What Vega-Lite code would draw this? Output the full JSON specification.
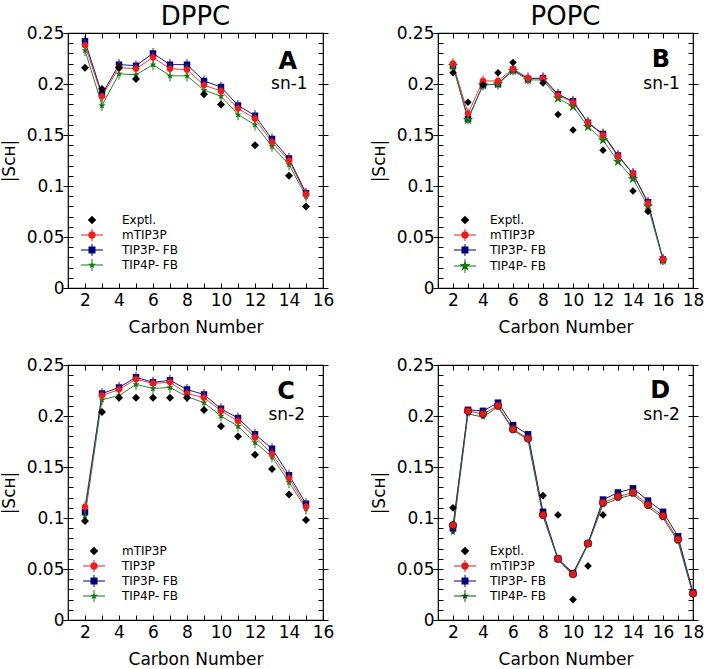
{
  "$schema": "https://vega.github.io/schema/vega-lite/v6.json",
  "padding": {"left": -1, "top": 3, "right": 0, "bottom": 0},
  "background": "white",
  "config": {
    "view": {"stroke": "black", "strokeWidth": 1.2},
    "font": "DejaVu Sans",
    "axis": {"domain": false, "grid": false, "tickColor": "black", "tickWidth": 1, "labelColor": "black", "labelFontSize": 17, "labelFont": "DejaVu Sans", "titleFontSize": 17, "titleFont": "DejaVu Sans", "titleFontWeight": "normal", "titleColor": "black"},
    "title": {"fontSize": 26, "fontWeight": "normal", "font": "DejaVu Sans", "color": "black", "offset": -6}
  },
  "datasets": {
    "A": [
      {"series": "Exptl.", "carbon": 2, "S": 0.216}, {"series": "Exptl.", "carbon": 3, "S": 0.195}, {"series": "Exptl.", "carbon": 4, "S": 0.216}, {"series": "Exptl.", "carbon": 5, "S": 0.205}, {"series": "Exptl.", "carbon": 9, "S": 0.19}, {"series": "Exptl.", "carbon": 10, "S": 0.18}, {"series": "Exptl.", "carbon": 12, "S": 0.14}, {"series": "Exptl.", "carbon": 14, "S": 0.11}, {"series": "Exptl.", "carbon": 15, "S": 0.08},
      {"series": "mTIP3P", "carbon": 2, "S": 0.238}, {"series": "mTIP3P", "carbon": 3, "S": 0.188}, {"series": "mTIP3P", "carbon": 4, "S": 0.216}, {"series": "mTIP3P", "carbon": 5, "S": 0.215}, {"series": "mTIP3P", "carbon": 6, "S": 0.226}, {"series": "mTIP3P", "carbon": 7, "S": 0.215}, {"series": "mTIP3P", "carbon": 8, "S": 0.214}, {"series": "mTIP3P", "carbon": 9, "S": 0.199}, {"series": "mTIP3P", "carbon": 10, "S": 0.193}, {"series": "mTIP3P", "carbon": 11, "S": 0.176}, {"series": "mTIP3P", "carbon": 12, "S": 0.166}, {"series": "mTIP3P", "carbon": 13, "S": 0.143}, {"series": "mTIP3P", "carbon": 14, "S": 0.125}, {"series": "mTIP3P", "carbon": 15, "S": 0.092},
      {"series": "TIP3P- FB", "carbon": 2, "S": 0.242}, {"series": "TIP3P- FB", "carbon": 3, "S": 0.19}, {"series": "TIP3P- FB", "carbon": 4, "S": 0.219}, {"series": "TIP3P- FB", "carbon": 5, "S": 0.218}, {"series": "TIP3P- FB", "carbon": 6, "S": 0.23}, {"series": "TIP3P- FB", "carbon": 7, "S": 0.219}, {"series": "TIP3P- FB", "carbon": 8, "S": 0.219}, {"series": "TIP3P- FB", "carbon": 9, "S": 0.203}, {"series": "TIP3P- FB", "carbon": 10, "S": 0.197}, {"series": "TIP3P- FB", "carbon": 11, "S": 0.179}, {"series": "TIP3P- FB", "carbon": 12, "S": 0.169}, {"series": "TIP3P- FB", "carbon": 13, "S": 0.146}, {"series": "TIP3P- FB", "carbon": 14, "S": 0.127}, {"series": "TIP3P- FB", "carbon": 15, "S": 0.093},
      {"series": "TIP4P- FB", "carbon": 2, "S": 0.233}, {"series": "TIP4P- FB", "carbon": 3, "S": 0.179}, {"series": "TIP4P- FB", "carbon": 4, "S": 0.21}, {"series": "TIP4P- FB", "carbon": 5, "S": 0.209}, {"series": "TIP4P- FB", "carbon": 6, "S": 0.219}, {"series": "TIP4P- FB", "carbon": 7, "S": 0.208}, {"series": "TIP4P- FB", "carbon": 8, "S": 0.208}, {"series": "TIP4P- FB", "carbon": 9, "S": 0.194}, {"series": "TIP4P- FB", "carbon": 10, "S": 0.188}, {"series": "TIP4P- FB", "carbon": 11, "S": 0.17}, {"series": "TIP4P- FB", "carbon": 12, "S": 0.16}, {"series": "TIP4P- FB", "carbon": 13, "S": 0.139}, {"series": "TIP4P- FB", "carbon": 14, "S": 0.121}, {"series": "TIP4P- FB", "carbon": 15, "S": 0.09}
    ],
    "B": [
      {"series": "Exptl.", "carbon": 2, "S": 0.211}, {"series": "Exptl.", "carbon": 3, "S": 0.182}, {"series": "Exptl.", "carbon": 4, "S": 0.199}, {"series": "Exptl.", "carbon": 5, "S": 0.211}, {"series": "Exptl.", "carbon": 6, "S": 0.221}, {"series": "Exptl.", "carbon": 8, "S": 0.201}, {"series": "Exptl.", "carbon": 9, "S": 0.17}, {"series": "Exptl.", "carbon": 10, "S": 0.155}, {"series": "Exptl.", "carbon": 12, "S": 0.135}, {"series": "Exptl.", "carbon": 14, "S": 0.095}, {"series": "Exptl.", "carbon": 15, "S": 0.075},
      {"series": "mTIP3P", "carbon": 2, "S": 0.22}, {"series": "mTIP3P", "carbon": 3, "S": 0.171}, {"series": "mTIP3P", "carbon": 4, "S": 0.203}, {"series": "mTIP3P", "carbon": 5, "S": 0.203}, {"series": "mTIP3P", "carbon": 6, "S": 0.215}, {"series": "mTIP3P", "carbon": 7, "S": 0.206}, {"series": "mTIP3P", "carbon": 8, "S": 0.205}, {"series": "mTIP3P", "carbon": 9, "S": 0.189}, {"series": "mTIP3P", "carbon": 10, "S": 0.182}, {"series": "mTIP3P", "carbon": 11, "S": 0.162}, {"series": "mTIP3P", "carbon": 12, "S": 0.15}, {"series": "mTIP3P", "carbon": 13, "S": 0.129}, {"series": "mTIP3P", "carbon": 14, "S": 0.112}, {"series": "mTIP3P", "carbon": 15, "S": 0.083}, {"series": "mTIP3P", "carbon": 16, "S": 0.028},
      {"series": "TIP3P- FB", "carbon": 2, "S": 0.218}, {"series": "TIP3P- FB", "carbon": 3, "S": 0.166}, {"series": "TIP3P- FB", "carbon": 4, "S": 0.199}, {"series": "TIP3P- FB", "carbon": 5, "S": 0.2}, {"series": "TIP3P- FB", "carbon": 6, "S": 0.214}, {"series": "TIP3P- FB", "carbon": 7, "S": 0.205}, {"series": "TIP3P- FB", "carbon": 8, "S": 0.206}, {"series": "TIP3P- FB", "carbon": 9, "S": 0.19}, {"series": "TIP3P- FB", "carbon": 10, "S": 0.183}, {"series": "TIP3P- FB", "carbon": 11, "S": 0.162}, {"series": "TIP3P- FB", "carbon": 12, "S": 0.151}, {"series": "TIP3P- FB", "carbon": 13, "S": 0.13}, {"series": "TIP3P- FB", "carbon": 14, "S": 0.112}, {"series": "TIP3P- FB", "carbon": 15, "S": 0.084}, {"series": "TIP3P- FB", "carbon": 16, "S": 0.028},
      {"series": "TIP4P- FB", "carbon": 2, "S": 0.218}, {"series": "TIP4P- FB", "carbon": 3, "S": 0.165}, {"series": "TIP4P- FB", "carbon": 4, "S": 0.199}, {"series": "TIP4P- FB", "carbon": 5, "S": 0.2}, {"series": "TIP4P- FB", "carbon": 6, "S": 0.213}, {"series": "TIP4P- FB", "carbon": 7, "S": 0.204}, {"series": "TIP4P- FB", "carbon": 8, "S": 0.204}, {"series": "TIP4P- FB", "carbon": 9, "S": 0.186}, {"series": "TIP4P- FB", "carbon": 10, "S": 0.178}, {"series": "TIP4P- FB", "carbon": 11, "S": 0.158}, {"series": "TIP4P- FB", "carbon": 12, "S": 0.145}, {"series": "TIP4P- FB", "carbon": 13, "S": 0.124}, {"series": "TIP4P- FB", "carbon": 14, "S": 0.107}, {"series": "TIP4P- FB", "carbon": 15, "S": 0.08}, {"series": "TIP4P- FB", "carbon": 16, "S": 0.027}
    ],
    "C": [
      {"series": "Exptl.", "carbon": 2, "S": 0.097}, {"series": "Exptl.", "carbon": 3, "S": 0.204}, {"series": "Exptl.", "carbon": 4, "S": 0.218}, {"series": "Exptl.", "carbon": 5, "S": 0.218}, {"series": "Exptl.", "carbon": 6, "S": 0.218}, {"series": "Exptl.", "carbon": 7, "S": 0.218}, {"series": "Exptl.", "carbon": 8, "S": 0.218}, {"series": "Exptl.", "carbon": 9, "S": 0.206}, {"series": "Exptl.", "carbon": 10, "S": 0.19}, {"series": "Exptl.", "carbon": 11, "S": 0.18}, {"series": "Exptl.", "carbon": 12, "S": 0.162}, {"series": "Exptl.", "carbon": 13, "S": 0.148}, {"series": "Exptl.", "carbon": 14, "S": 0.123}, {"series": "Exptl.", "carbon": 15, "S": 0.098},
      {"series": "mTIP3P", "carbon": 2, "S": 0.111}, {"series": "mTIP3P", "carbon": 3, "S": 0.22}, {"series": "mTIP3P", "carbon": 4, "S": 0.226}, {"series": "mTIP3P", "carbon": 5, "S": 0.236}, {"series": "mTIP3P", "carbon": 6, "S": 0.232}, {"series": "mTIP3P", "carbon": 7, "S": 0.233}, {"series": "mTIP3P", "carbon": 8, "S": 0.222}, {"series": "mTIP3P", "carbon": 9, "S": 0.218}, {"series": "mTIP3P", "carbon": 10, "S": 0.205}, {"series": "mTIP3P", "carbon": 11, "S": 0.195}, {"series": "mTIP3P", "carbon": 12, "S": 0.179}, {"series": "mTIP3P", "carbon": 13, "S": 0.163}, {"series": "mTIP3P", "carbon": 14, "S": 0.139}, {"series": "mTIP3P", "carbon": 15, "S": 0.111},
      {"series": "TIP3P- FB", "carbon": 2, "S": 0.106}, {"series": "TIP3P- FB", "carbon": 3, "S": 0.222}, {"series": "TIP3P- FB", "carbon": 4, "S": 0.228}, {"series": "TIP3P- FB", "carbon": 5, "S": 0.238}, {"series": "TIP3P- FB", "carbon": 6, "S": 0.233}, {"series": "TIP3P- FB", "carbon": 7, "S": 0.235}, {"series": "TIP3P- FB", "carbon": 8, "S": 0.226}, {"series": "TIP3P- FB", "carbon": 9, "S": 0.221}, {"series": "TIP3P- FB", "carbon": 10, "S": 0.207}, {"series": "TIP3P- FB", "carbon": 11, "S": 0.198}, {"series": "TIP3P- FB", "carbon": 12, "S": 0.182}, {"series": "TIP3P- FB", "carbon": 13, "S": 0.168}, {"series": "TIP3P- FB", "carbon": 14, "S": 0.142}, {"series": "TIP3P- FB", "carbon": 15, "S": 0.114},
      {"series": "TIP4P- FB", "carbon": 2, "S": 0.102}, {"series": "TIP4P- FB", "carbon": 3, "S": 0.216}, {"series": "TIP4P- FB", "carbon": 4, "S": 0.22}, {"series": "TIP4P- FB", "carbon": 5, "S": 0.231}, {"series": "TIP4P- FB", "carbon": 6, "S": 0.227}, {"series": "TIP4P- FB", "carbon": 7, "S": 0.228}, {"series": "TIP4P- FB", "carbon": 8, "S": 0.219}, {"series": "TIP4P- FB", "carbon": 9, "S": 0.213}, {"series": "TIP4P- FB", "carbon": 10, "S": 0.2}, {"series": "TIP4P- FB", "carbon": 11, "S": 0.19}, {"series": "TIP4P- FB", "carbon": 12, "S": 0.174}, {"series": "TIP4P- FB", "carbon": 13, "S": 0.16}, {"series": "TIP4P- FB", "carbon": 14, "S": 0.135}, {"series": "TIP4P- FB", "carbon": 15, "S": 0.109}
    ],
    "D": [
      {"series": "Exptl.", "carbon": 2, "S": 0.11}, {"series": "Exptl.", "carbon": 8, "S": 0.122}, {"series": "Exptl.", "carbon": 9, "S": 0.103}, {"series": "Exptl.", "carbon": 10, "S": 0.02}, {"series": "Exptl.", "carbon": 11, "S": 0.053}, {"series": "Exptl.", "carbon": 12, "S": 0.103},
      {"series": "mTIP3P", "carbon": 2, "S": 0.093}, {"series": "mTIP3P", "carbon": 3, "S": 0.205}, {"series": "mTIP3P", "carbon": 4, "S": 0.202}, {"series": "mTIP3P", "carbon": 5, "S": 0.21}, {"series": "mTIP3P", "carbon": 6, "S": 0.187}, {"series": "mTIP3P", "carbon": 7, "S": 0.178}, {"series": "mTIP3P", "carbon": 8, "S": 0.103}, {"series": "mTIP3P", "carbon": 9, "S": 0.06}, {"series": "mTIP3P", "carbon": 10, "S": 0.045}, {"series": "mTIP3P", "carbon": 11, "S": 0.075}, {"series": "mTIP3P", "carbon": 12, "S": 0.115}, {"series": "mTIP3P", "carbon": 13, "S": 0.121}, {"series": "mTIP3P", "carbon": 14, "S": 0.125}, {"series": "mTIP3P", "carbon": 15, "S": 0.113}, {"series": "mTIP3P", "carbon": 16, "S": 0.102}, {"series": "mTIP3P", "carbon": 17, "S": 0.079}, {"series": "mTIP3P", "carbon": 18, "S": 0.026},
      {"series": "TIP3P- FB", "carbon": 2, "S": 0.09}, {"series": "TIP3P- FB", "carbon": 3, "S": 0.206}, {"series": "TIP3P- FB", "carbon": 4, "S": 0.205}, {"series": "TIP3P- FB", "carbon": 5, "S": 0.213}, {"series": "TIP3P- FB", "carbon": 6, "S": 0.191}, {"series": "TIP3P- FB", "carbon": 7, "S": 0.182}, {"series": "TIP3P- FB", "carbon": 8, "S": 0.106}, {"series": "TIP3P- FB", "carbon": 9, "S": 0.06}, {"series": "TIP3P- FB", "carbon": 10, "S": 0.046}, {"series": "TIP3P- FB", "carbon": 11, "S": 0.075}, {"series": "TIP3P- FB", "carbon": 12, "S": 0.118}, {"series": "TIP3P- FB", "carbon": 13, "S": 0.125}, {"series": "TIP3P- FB", "carbon": 14, "S": 0.129}, {"series": "TIP3P- FB", "carbon": 15, "S": 0.117}, {"series": "TIP3P- FB", "carbon": 16, "S": 0.106}, {"series": "TIP3P- FB", "carbon": 17, "S": 0.082}, {"series": "TIP3P- FB", "carbon": 18, "S": 0.027},
      {"series": "TIP4P- FB", "carbon": 2, "S": 0.086}, {"series": "TIP4P- FB", "carbon": 3, "S": 0.202}, {"series": "TIP4P- FB", "carbon": 4, "S": 0.199}, {"series": "TIP4P- FB", "carbon": 5, "S": 0.209}, {"series": "TIP4P- FB", "carbon": 6, "S": 0.186}, {"series": "TIP4P- FB", "carbon": 7, "S": 0.177}, {"series": "TIP4P- FB", "carbon": 8, "S": 0.102}, {"series": "TIP4P- FB", "carbon": 9, "S": 0.059}, {"series": "TIP4P- FB", "carbon": 10, "S": 0.044}, {"series": "TIP4P- FB", "carbon": 11, "S": 0.074}, {"series": "TIP4P- FB", "carbon": 12, "S": 0.113}, {"series": "TIP4P- FB", "carbon": 13, "S": 0.119}, {"series": "TIP4P- FB", "carbon": 14, "S": 0.123}, {"series": "TIP4P- FB", "carbon": 15, "S": 0.111}, {"series": "TIP4P- FB", "carbon": 16, "S": 0.1}, {"series": "TIP4P- FB", "carbon": 17, "S": 0.077}, {"series": "TIP4P- FB", "carbon": 18, "S": 0.025}
    ]
  },
  "concat": [
    {
      "width": 255, "height": 255,
      "title": {"text": "DPPC"},
      "data": {"name": "A"},
      "layer": [
        {"transform": [{"filter": "datum.series != 'Exptl.'"}], "mark": {"type": "line", "strokeWidth": 1},
         "encoding": {
           "x": {"field": "carbon", "type": "quantitative", "scale": {"domain": [1, 16], "nice": false, "zero": false}, "axis": {"orient": "bottom", "values": [1,2,3,4,5,6,7,8,9,10,11,12,13,14,15,16], "labelExpr": "datum.value % 2 === 0 ? datum.label : ''", "tickSize": -5, "labelPadding": 9, "labelFlush": false, "labelOverlap": false, "title": "Carbon Number", "titlePadding": 11}},
           "y": {"field": "S", "type": "quantitative", "scale": {"domain": [0, 0.25], "nice": false}, "axis": {"orient": "left", "values": [0,0.05,0.1,0.15,0.2,0.25], "format": "~g", "tickSize": 5, "labelPadding": -1, "labelFlush": false, "labelOverlap": false, "title": "|Sᴄʜ|", "titlePadding": 8}},
           "stroke": {"field": "series", "scale": {"domain": ["mTIP3P", "TIP3P- FB", "TIP4P- FB"], "range": ["#f03a3a", "#1a1a8a", "#2a8a2a"]}, "legend": null}
         }},
        {"mark": {"type": "point", "filled": true, "opacity": 0, "size": 100},
         "encoding": {
           "x": {"field": "carbon", "type": "quantitative", "scale": {"domain": [1, 16], "nice": false, "zero": false}, "axis": {"orient": "top", "values": [1,2,3,4,5,6,7,8,9,10,11,12,13,14,15,16], "tickSize": -5, "labels": false, "title": null}},
           "y": {"field": "S", "type": "quantitative", "scale": {"domain": [0, 0.25], "nice": false}, "axis": {"orient": "right", "values": [0,0.05,0.1,0.15,0.2,0.25], "tickSize": 5, "labels": false, "title": null}},
           "color": {"field": "series", "scale": {"domain": ["Exptl.", "mTIP3P", "TIP3P- FB", "TIP4P- FB"], "range": ["#000000", "#ee1c1c", "#00007a", "#117711"]},
             "legend": {"orient": "none", "legendX": 18, "legendY": 181, "title": null, "labelFontSize": 12, "labelFont": "DejaVu Sans", "labelColor": "black", "symbolSize": 100, "symbolStrokeWidth": 0, "symbolOpacity": 1, "labelOffset": 24, "rowPadding": 3, "padding": 0, "encode": {"symbols": {"update": {"opacity": {"value": 1}, "fillOpacity": {"value": 1}}}}}},
           "shape": {"field": "series", "scale": {"domain": ["Exptl.", "mTIP3P", "TIP3P- FB", "TIP4P- FB"], "range": ["M0,-0.85L0.85,0L0,0.85L-0.85,0Z", "M-2.2,-0.1H2.2V0.1H-2.2Z M-0.1,-1.2H0.1V1.2H-0.1Z M-0.75,0A0.75,0.75 0 1,1 0.75,0A0.75,0.75 0 1,1 -0.75,0Z", "M-2.2,-0.1H2.2V0.1H-2.2Z M-0.1,-1.2H0.1V1.2H-0.1Z M-0.7,-0.7H0.7V0.7H-0.7Z", "M-2.2,-0.1H2.2V0.1H-2.2Z M-0.1,-1.2H0.1V1.2H-0.1Z M0,-0.8L0.188,-0.259L0.761,-0.247L0.304,0.099L0.47,0.647L0,0.32L-0.47,0.647L-0.304,0.099L-0.761,-0.247L-0.188,-0.259Z"]},
             "legend": {"orient": "none", "legendX": 18, "legendY": 181, "title": null, "labelFontSize": 12, "labelFont": "DejaVu Sans", "labelColor": "black", "symbolSize": 100, "symbolStrokeWidth": 0, "symbolOpacity": 1, "labelOffset": 24, "rowPadding": 3, "padding": 0, "encode": {"symbols": {"update": {"opacity": {"value": 1}, "fillOpacity": {"value": 1}}}}}}
         }},
        {"transform": [{"filter": "datum.series == 'TIP3P- FB'"}], "mark": {"type": "point", "filled": true, "opacity": 1, "color": "#00007a", "size": 42, "shape": "M-1,-1H1V1H-1Z M-0.13,-1.7H0.13V1.7H-0.13Z"},
         "encoding": {
           "x": {"field": "carbon", "type": "quantitative", "scale": {"domain": [1, 16], "nice": false, "zero": false}, "axis": null},
           "y": {"field": "S", "type": "quantitative", "scale": {"domain": [0, 0.25], "nice": false}, "axis": {"orient": "left", "values": [0,0.01,0.02,0.03,0.04,0.05,0.06,0.07,0.08,0.09,0.1,0.11,0.12,0.13,0.14,0.15,0.16,0.17,0.18,0.19,0.2,0.21,0.22,0.23,0.24,0.25], "tickSize": -5, "labels": false, "title": null}}
         }},
        {"transform": [{"filter": "datum.series == 'TIP4P- FB'"}], "mark": {"type": "point", "filled": true, "opacity": 1, "color": "#117711", "size": 56, "shape": "M0,-1L0.235,-0.324L0.951,-0.309L0.38,0.124L0.588,0.809L0,0.4L-0.588,0.809L-0.38,0.124L-0.951,-0.309L-0.235,-0.324Z M-0.13,-1.5H0.13V1.5H-0.13Z"},
         "encoding": {
           "x": {"field": "carbon", "type": "quantitative", "scale": {"domain": [1, 16], "nice": false, "zero": false}, "axis": null},
           "y": {"field": "S", "type": "quantitative", "scale": {"domain": [0, 0.25], "nice": false}, "axis": {"orient": "right", "values": [0,0.01,0.02,0.03,0.04,0.05,0.06,0.07,0.08,0.09,0.1,0.11,0.12,0.13,0.14,0.15,0.16,0.17,0.18,0.19,0.2,0.21,0.22,0.23,0.24,0.25], "tickSize": -5, "labels": false, "title": null}}
         }},
        {"transform": [{"filter": "datum.series == 'mTIP3P'"}], "mark": {"type": "point", "filled": true, "opacity": 1, "color": "#ee1c1c", "size": 44, "shape": "M-1,0A1,1 0 1,1 1,0A1,1 0 1,1 -1,0Z M-0.13,-1.7H0.13V1.7H-0.13Z"},
         "encoding": {
           "x": {"field": "carbon", "type": "quantitative", "scale": {"domain": [1, 16], "nice": false, "zero": false}, "axis": null},
           "y": {"field": "S", "type": "quantitative", "scale": {"domain": [0, 0.25], "nice": false}, "axis": null}
         }},
        {"transform": [{"filter": "datum.series == 'Exptl.'"}], "mark": {"type": "point", "filled": true, "opacity": 1, "color": "#000000", "size": 64, "shape": "M0,-1L1,0L0,1L-1,0Z"},
         "encoding": {
           "x": {"field": "carbon", "type": "quantitative", "scale": {"domain": [1, 16], "nice": false, "zero": false}, "axis": null},
           "y": {"field": "S", "type": "quantitative", "scale": {"domain": [0, 0.25], "nice": false}, "axis": null}
         }},
        {"data": {"values": [{"t": "A"}]}, "mark": {"type": "text", "align": "right", "baseline": "middle", "fontSize": 24, "fontWeight": "bold", "color": "black"},
         "encoding": {"x": {"datum": 14.47, "type": "quantitative", "axis": null}, "y": {"datum": 0.222, "type": "quantitative", "axis": null}, "text": {"field": "t"}}},
        {"data": {"values": [{"t": "sn-1"}]}, "mark": {"type": "text", "align": "right", "baseline": "middle", "fontSize": 17, "color": "black"},
         "encoding": {"x": {"datum": 15.1, "type": "quantitative", "axis": null}, "y": {"datum": 0.2, "type": "quantitative", "axis": null}, "text": {"field": "t"}}}
      ],
      "resolve": {"axis": {"x": "independent", "y": "independent"}}
    },
    {
      "width": 255, "height": 255,
      "title": {"text": "POPC"},
      "data": {"name": "B"},
      "layer": [
        {"transform": [{"filter": "datum.series != 'Exptl.'"}], "mark": {"type": "line", "strokeWidth": 1},
         "encoding": {
           "x": {"field": "carbon", "type": "quantitative", "scale": {"domain": [1, 18], "nice": false, "zero": false}, "axis": {"orient": "bottom", "values": [1,2,3,4,5,6,7,8,9,10,11,12,13,14,15,16,17,18], "labelExpr": "datum.value % 2 === 0 ? datum.label : ''", "tickSize": -5, "labelPadding": 9, "labelFlush": false, "labelOverlap": false, "title": "Carbon Number", "titlePadding": 11}},
           "y": {"field": "S", "type": "quantitative", "scale": {"domain": [0, 0.25], "nice": false}, "axis": {"orient": "left", "values": [0,0.05,0.1,0.15,0.2,0.25], "format": "~g", "tickSize": 5, "labelPadding": -1, "labelFlush": false, "labelOverlap": false, "title": "|Sᴄʜ|", "titlePadding": 8}},
           "stroke": {"field": "series", "scale": {"domain": ["mTIP3P", "TIP3P- FB", "TIP4P- FB"], "range": ["#f03a3a", "#1a1a8a", "#2a8a2a"]}, "legend": null}
         }},
        {"mark": {"type": "point", "filled": true, "opacity": 0, "size": 100},
         "encoding": {
           "x": {"field": "carbon", "type": "quantitative", "scale": {"domain": [1, 18], "nice": false, "zero": false}, "axis": {"orient": "top", "values": [1,2,3,4,5,6,7,8,9,10,11,12,13,14,15,16,17,18], "tickSize": -5, "labels": false, "title": null}},
           "y": {"field": "S", "type": "quantitative", "scale": {"domain": [0, 0.25], "nice": false}, "axis": {"orient": "right", "values": [0,0.05,0.1,0.15,0.2,0.25], "tickSize": 5, "labels": false, "title": null}},
           "color": {"field": "series", "scale": {"domain": ["Exptl.", "mTIP3P", "TIP3P- FB", "TIP4P- FB"], "range": ["#000000", "#ee1c1c", "#00007a", "#117711"]},
             "legend": {"orient": "none", "legendX": 21, "legendY": 181, "title": null, "labelFontSize": 12, "labelFont": "DejaVu Sans", "labelColor": "black", "symbolSize": 100, "symbolStrokeWidth": 0, "symbolOpacity": 1, "labelOffset": 19, "rowPadding": 3, "padding": 0, "encode": {"symbols": {"update": {"opacity": {"value": 1}, "fillOpacity": {"value": 1}}}}}},
           "shape": {"field": "series", "scale": {"domain": ["Exptl.", "mTIP3P", "TIP3P- FB", "TIP4P- FB"], "range": ["M0,-0.85L0.85,0L0,0.85L-0.85,0Z", "M-2.2,-0.1H2.2V0.1H-2.2Z M-0.1,-1.2H0.1V1.2H-0.1Z M-0.75,0A0.75,0.75 0 1,1 0.75,0A0.75,0.75 0 1,1 -0.75,0Z", "M-2.2,-0.1H2.2V0.1H-2.2Z M-0.1,-1.2H0.1V1.2H-0.1Z M-0.7,-0.7H0.7V0.7H-0.7Z", "M-2.2,-0.1H2.2V0.1H-2.2Z M-0.1,-1.4H0.1V1.4H-0.1Z M0,-1.2L0.282,-0.389L1.141,-0.371L0.456,0.149L0.706,0.971L0,0.48L-0.706,0.971L-0.456,0.149L-1.141,-0.371L-0.282,-0.389Z"]},
             "legend": {"orient": "none", "legendX": 21, "legendY": 181, "title": null, "labelFontSize": 12, "labelFont": "DejaVu Sans", "labelColor": "black", "symbolSize": 100, "symbolStrokeWidth": 0, "symbolOpacity": 1, "labelOffset": 19, "rowPadding": 3, "padding": 0, "encode": {"symbols": {"update": {"opacity": {"value": 1}, "fillOpacity": {"value": 1}}}}}}
         }},
        {"transform": [{"filter": "datum.series == 'TIP3P- FB'"}], "mark": {"type": "point", "filled": true, "opacity": 1, "color": "#00007a", "size": 42, "shape": "M-1,-1H1V1H-1Z M-0.13,-1.7H0.13V1.7H-0.13Z"},
         "encoding": {
           "x": {"field": "carbon", "type": "quantitative", "scale": {"domain": [1, 18], "nice": false, "zero": false}, "axis": null},
           "y": {"field": "S", "type": "quantitative", "scale": {"domain": [0, 0.25], "nice": false}, "axis": {"orient": "left", "values": [0,0.01,0.02,0.03,0.04,0.05,0.06,0.07,0.08,0.09,0.1,0.11,0.12,0.13,0.14,0.15,0.16,0.17,0.18,0.19,0.2,0.21,0.22,0.23,0.24,0.25], "tickSize": -5, "labels": false, "title": null}}
         }},
        {"transform": [{"filter": "datum.series == 'TIP4P- FB'"}], "mark": {"type": "point", "filled": true, "opacity": 1, "color": "#117711", "size": 121, "shape": "M0,-1L0.235,-0.324L0.951,-0.309L0.38,0.124L0.588,0.809L0,0.4L-0.588,0.809L-0.38,0.124L-0.951,-0.309L-0.235,-0.324Z"},
         "encoding": {
           "x": {"field": "carbon", "type": "quantitative", "scale": {"domain": [1, 18], "nice": false, "zero": false}, "axis": null},
           "y": {"field": "S", "type": "quantitative", "scale": {"domain": [0, 0.25], "nice": false}, "axis": {"orient": "right", "values": [0,0.01,0.02,0.03,0.04,0.05,0.06,0.07,0.08,0.09,0.1,0.11,0.12,0.13,0.14,0.15,0.16,0.17,0.18,0.19,0.2,0.21,0.22,0.23,0.24,0.25], "tickSize": -5, "labels": false, "title": null}}
         }},
        {"transform": [{"filter": "datum.series == 'mTIP3P'"}], "mark": {"type": "point", "filled": true, "opacity": 1, "color": "#ee1c1c", "size": 44, "shape": "M-1,0A1,1 0 1,1 1,0A1,1 0 1,1 -1,0Z M-0.13,-1.7H0.13V1.7H-0.13Z"},
         "encoding": {
           "x": {"field": "carbon", "type": "quantitative", "scale": {"domain": [1, 18], "nice": false, "zero": false}, "axis": null},
           "y": {"field": "S", "type": "quantitative", "scale": {"domain": [0, 0.25], "nice": false}, "axis": null}
         }},
        {"transform": [{"filter": "datum.series == 'Exptl.'"}], "mark": {"type": "point", "filled": true, "opacity": 1, "color": "#000000", "size": 56, "shape": "M0,-1L1,0L0,1L-1,0Z"},
         "encoding": {
           "x": {"field": "carbon", "type": "quantitative", "scale": {"domain": [1, 18], "nice": false, "zero": false}, "axis": null},
           "y": {"field": "S", "type": "quantitative", "scale": {"domain": [0, 0.25], "nice": false}, "axis": null}
         }},
        {"data": {"values": [{"t": "B"}]}, "mark": {"type": "text", "align": "right", "baseline": "middle", "fontSize": 24, "fontWeight": "bold", "color": "black"},
         "encoding": {"x": {"datum": 16.47, "type": "quantitative", "axis": null}, "y": {"datum": 0.224, "type": "quantitative", "axis": null}, "text": {"field": "t"}}},
        {"data": {"values": [{"t": "sn-1"}]}, "mark": {"type": "text", "align": "right", "baseline": "middle", "fontSize": 17, "color": "black"},
         "encoding": {"x": {"datum": 17.13, "type": "quantitative", "axis": null}, "y": {"datum": 0.2, "type": "quantitative", "axis": null}, "text": {"field": "t"}}}
      ],
      "resolve": {"axis": {"x": "independent", "y": "independent"}}
    },
    {
      "width": 255, "height": 255,
      "data": {"name": "C"},
      "layer": [
        {"transform": [{"filter": "datum.series != 'Exptl.'"}], "mark": {"type": "line", "strokeWidth": 1},
         "encoding": {
           "x": {"field": "carbon", "type": "quantitative", "scale": {"domain": [1, 16], "nice": false, "zero": false}, "axis": {"orient": "bottom", "values": [1,2,3,4,5,6,7,8,9,10,11,12,13,14,15,16], "labelExpr": "datum.value % 2 === 0 ? datum.label : ''", "tickSize": -5, "labelPadding": 9, "labelFlush": false, "labelOverlap": false, "title": "Carbon Number", "titlePadding": 11}},
           "y": {"field": "S", "type": "quantitative", "scale": {"domain": [0, 0.25], "nice": false}, "axis": {"orient": "left", "values": [0,0.05,0.1,0.15,0.2,0.25], "format": "~g", "tickSize": 5, "labelPadding": -1, "labelFlush": false, "labelOverlap": false, "title": "|Sᴄʜ|", "titlePadding": 8}},
           "stroke": {"field": "series", "scale": {"domain": ["mTIP3P", "TIP3P- FB", "TIP4P- FB"], "range": ["#f03a3a", "#1a1a8a", "#2a8a2a"]}, "legend": null}
         }},
        {"mark": {"type": "point", "filled": true, "opacity": 0, "size": 100},
         "encoding": {
           "x": {"field": "carbon", "type": "quantitative", "scale": {"domain": [1, 16], "nice": false, "zero": false}, "axis": {"orient": "top", "values": [1,2,3,4,5,6,7,8,9,10,11,12,13,14,15,16], "tickSize": -5, "labels": false, "title": null}},
           "y": {"field": "S", "type": "quantitative", "scale": {"domain": [0, 0.25], "nice": false}, "axis": {"orient": "right", "values": [0,0.05,0.1,0.15,0.2,0.25], "tickSize": 5, "labels": false, "title": null}},
           "color": {"field": "series", "scale": {"domain": ["Exptl.", "mTIP3P", "TIP3P- FB", "TIP4P- FB"], "range": ["#000000", "#ee1c1c", "#00007a", "#117711"]},
             "legend": {"orient": "none", "legendX": 20, "legendY": 180, "title": null, "labelFontSize": 12, "labelFont": "DejaVu Sans", "labelColor": "black", "symbolSize": 100, "symbolStrokeWidth": 0, "symbolOpacity": 1, "labelOffset": 22, "rowPadding": 3, "padding": 0, "labelExpr": "datum.label == 'Exptl.' ? 'mTIP3P' : datum.label == 'mTIP3P' ? 'TIP3P' : datum.label", "encode": {"symbols": {"update": {"opacity": {"value": 1}, "fillOpacity": {"value": 1}}}}}},
           "shape": {"field": "series", "scale": {"domain": ["Exptl.", "mTIP3P", "TIP3P- FB", "TIP4P- FB"], "range": ["M0,-0.85L0.85,0L0,0.85L-0.85,0Z", "M-2.2,-0.1H2.2V0.1H-2.2Z M-0.1,-1.2H0.1V1.2H-0.1Z M-0.75,0A0.75,0.75 0 1,1 0.75,0A0.75,0.75 0 1,1 -0.75,0Z", "M-2.2,-0.1H2.2V0.1H-2.2Z M-0.1,-1.2H0.1V1.2H-0.1Z M-0.7,-0.7H0.7V0.7H-0.7Z", "M-2.2,-0.1H2.2V0.1H-2.2Z M-0.1,-1.2H0.1V1.2H-0.1Z M0,-0.8L0.188,-0.259L0.761,-0.247L0.304,0.099L0.47,0.647L0,0.32L-0.47,0.647L-0.304,0.099L-0.761,-0.247L-0.188,-0.259Z"]},
             "legend": {"orient": "none", "legendX": 20, "legendY": 180, "title": null, "labelFontSize": 12, "labelFont": "DejaVu Sans", "labelColor": "black", "symbolSize": 100, "symbolStrokeWidth": 0, "symbolOpacity": 1, "labelOffset": 22, "rowPadding": 3, "padding": 0, "labelExpr": "datum.label == 'Exptl.' ? 'mTIP3P' : datum.label == 'mTIP3P' ? 'TIP3P' : datum.label", "encode": {"symbols": {"update": {"opacity": {"value": 1}, "fillOpacity": {"value": 1}}}}}}
         }},
        {"transform": [{"filter": "datum.series == 'TIP3P- FB'"}], "mark": {"type": "point", "filled": true, "opacity": 1, "color": "#00007a", "size": 42, "shape": "M-1,-1H1V1H-1Z M-0.13,-1.7H0.13V1.7H-0.13Z"},
         "encoding": {
           "x": {"field": "carbon", "type": "quantitative", "scale": {"domain": [1, 16], "nice": false, "zero": false}, "axis": null},
           "y": {"field": "S", "type": "quantitative", "scale": {"domain": [0, 0.25], "nice": false}, "axis": {"orient": "left", "values": [0,0.01,0.02,0.03,0.04,0.05,0.06,0.07,0.08,0.09,0.1,0.11,0.12,0.13,0.14,0.15,0.16,0.17,0.18,0.19,0.2,0.21,0.22,0.23,0.24,0.25], "tickSize": -5, "labels": false, "title": null}}
         }},
        {"transform": [{"filter": "datum.series == 'TIP4P- FB'"}], "mark": {"type": "point", "filled": true, "opacity": 1, "color": "#117711", "size": 56, "shape": "M0,-1L0.235,-0.324L0.951,-0.309L0.38,0.124L0.588,0.809L0,0.4L-0.588,0.809L-0.38,0.124L-0.951,-0.309L-0.235,-0.324Z M-0.13,-1.5H0.13V1.5H-0.13Z"},
         "encoding": {
           "x": {"field": "carbon", "type": "quantitative", "scale": {"domain": [1, 16], "nice": false, "zero": false}, "axis": null},
           "y": {"field": "S", "type": "quantitative", "scale": {"domain": [0, 0.25], "nice": false}, "axis": {"orient": "right", "values": [0,0.01,0.02,0.03,0.04,0.05,0.06,0.07,0.08,0.09,0.1,0.11,0.12,0.13,0.14,0.15,0.16,0.17,0.18,0.19,0.2,0.21,0.22,0.23,0.24,0.25], "tickSize": -5, "labels": false, "title": null}}
         }},
        {"transform": [{"filter": "datum.series == 'mTIP3P'"}], "mark": {"type": "point", "filled": true, "opacity": 1, "color": "#ee1c1c", "size": 44, "shape": "M-1,0A1,1 0 1,1 1,0A1,1 0 1,1 -1,0Z M-0.13,-1.7H0.13V1.7H-0.13Z"},
         "encoding": {
           "x": {"field": "carbon", "type": "quantitative", "scale": {"domain": [1, 16], "nice": false, "zero": false}, "axis": null},
           "y": {"field": "S", "type": "quantitative", "scale": {"domain": [0, 0.25], "nice": false}, "axis": null}
         }},
        {"transform": [{"filter": "datum.series == 'Exptl.'"}], "mark": {"type": "point", "filled": true, "opacity": 1, "color": "#000000", "size": 64, "shape": "M0,-1L1,0L0,1L-1,0Z"},
         "encoding": {
           "x": {"field": "carbon", "type": "quantitative", "scale": {"domain": [1, 16], "nice": false, "zero": false}, "axis": null},
           "y": {"field": "S", "type": "quantitative", "scale": {"domain": [0, 0.25], "nice": false}, "axis": null}
         }},
        {"data": {"values": [{"t": "C"}]}, "mark": {"type": "text", "align": "right", "baseline": "middle", "fontSize": 24, "fontWeight": "bold", "color": "black"},
         "encoding": {"x": {"datum": 14.35, "type": "quantitative", "axis": null}, "y": {"datum": 0.224, "type": "quantitative", "axis": null}, "text": {"field": "t"}}},
        {"data": {"values": [{"t": "sn-2"}]}, "mark": {"type": "text", "align": "right", "baseline": "middle", "fontSize": 17, "color": "black"},
         "encoding": {"x": {"datum": 14.94, "type": "quantitative", "axis": null}, "y": {"datum": 0.201, "type": "quantitative", "axis": null}, "text": {"field": "t"}}}
      ],
      "resolve": {"axis": {"x": "independent", "y": "independent"}}
    },
    {
      "width": 255, "height": 255,
      "data": {"name": "D"},
      "layer": [
        {"transform": [{"filter": "datum.series != 'Exptl.'"}], "mark": {"type": "line", "strokeWidth": 1},
         "encoding": {
           "x": {"field": "carbon", "type": "quantitative", "scale": {"domain": [1, 18], "nice": false, "zero": false}, "axis": {"orient": "bottom", "values": [1,2,3,4,5,6,7,8,9,10,11,12,13,14,15,16,17,18], "labelExpr": "datum.value % 2 === 0 ? datum.label : ''", "tickSize": -5, "labelPadding": 9, "labelFlush": false, "labelOverlap": false, "title": "Carbon Number", "titlePadding": 11}},
           "y": {"field": "S", "type": "quantitative", "scale": {"domain": [0, 0.25], "nice": false}, "axis": {"orient": "left", "values": [0,0.05,0.1,0.15,0.2,0.25], "format": "~g", "tickSize": 5, "labelPadding": -1, "labelFlush": false, "labelOverlap": false, "title": "|Sᴄʜ|", "titlePadding": 8}},
           "stroke": {"field": "series", "scale": {"domain": ["mTIP3P", "TIP3P- FB", "TIP4P- FB"], "range": ["#e02a2a", "#1a1a8a", "#2a6a2a"]}, "legend": null}
         }},
        {"mark": {"type": "point", "filled": true, "opacity": 0, "size": 100},
         "encoding": {
           "x": {"field": "carbon", "type": "quantitative", "scale": {"domain": [1, 18], "nice": false, "zero": false}, "axis": {"orient": "top", "values": [1,2,3,4,5,6,7,8,9,10,11,12,13,14,15,16,17,18], "tickSize": -5, "labels": false, "title": null}},
           "y": {"field": "S", "type": "quantitative", "scale": {"domain": [0, 0.25], "nice": false}, "axis": {"orient": "right", "values": [0,0.05,0.1,0.15,0.2,0.25], "tickSize": 5, "labels": false, "title": null}},
           "color": {"field": "series", "scale": {"domain": ["Exptl.", "mTIP3P", "TIP3P- FB", "TIP4P- FB"], "range": ["#000000", "#dd1c1c", "#00007a", "#0f4f0f"]},
             "legend": {"orient": "none", "legendX": 21, "legendY": 180, "title": null, "labelFontSize": 12, "labelFont": "DejaVu Sans", "labelColor": "black", "symbolSize": 100, "symbolStrokeWidth": 0, "symbolOpacity": 1, "labelOffset": 19, "rowPadding": 3, "padding": 0, "encode": {"symbols": {"update": {"opacity": {"value": 1}, "fillOpacity": {"value": 1}}}}}},
           "shape": {"field": "series", "scale": {"domain": ["Exptl.", "mTIP3P", "TIP3P- FB", "TIP4P- FB"], "range": ["M0,-0.85L0.85,0L0,0.85L-0.85,0Z", "M-2.2,-0.1H2.2V0.1H-2.2Z M-0.1,-1.2H0.1V1.2H-0.1Z M-0.75,0A0.75,0.75 0 1,1 0.75,0A0.75,0.75 0 1,1 -0.75,0Z", "M-2.2,-0.1H2.2V0.1H-2.2Z M-0.1,-1.2H0.1V1.2H-0.1Z M-0.7,-0.7H0.7V0.7H-0.7Z", "M-2.2,-0.1H2.2V0.1H-2.2Z M-0.1,-1.2H0.1V1.2H-0.1Z M0,-0.8L0.188,-0.259L0.761,-0.247L0.304,0.099L0.47,0.647L0,0.32L-0.47,0.647L-0.304,0.099L-0.761,-0.247L-0.188,-0.259Z"]},
             "legend": {"orient": "none", "legendX": 21, "legendY": 180, "title": null, "labelFontSize": 12, "labelFont": "DejaVu Sans", "labelColor": "black", "symbolSize": 100, "symbolStrokeWidth": 0, "symbolOpacity": 1, "labelOffset": 19, "rowPadding": 3, "padding": 0, "encode": {"symbols": {"update": {"opacity": {"value": 1}, "fillOpacity": {"value": 1}}}}}}
         }},
        {"transform": [{"filter": "datum.series == 'TIP3P- FB'"}], "mark": {"type": "point", "filled": true, "opacity": 1, "color": "#00007a", "size": 44, "shape": "M-1,-1H1V1H-1Z"},
         "encoding": {
           "x": {"field": "carbon", "type": "quantitative", "scale": {"domain": [1, 18], "nice": false, "zero": false}, "axis": null},
           "y": {"field": "S", "type": "quantitative", "scale": {"domain": [0, 0.25], "nice": false}, "axis": {"orient": "left", "values": [0,0.01,0.02,0.03,0.04,0.05,0.06,0.07,0.08,0.09,0.1,0.11,0.12,0.13,0.14,0.15,0.16,0.17,0.18,0.19,0.2,0.21,0.22,0.23,0.24,0.25], "tickSize": -5, "labels": false, "title": null}}
         }},
        {"transform": [{"filter": "datum.series == 'TIP4P- FB'"}], "mark": {"type": "point", "filled": true, "opacity": 1, "color": "#0f3f0f", "size": 49, "shape": "M0,-1L0.235,-0.324L0.951,-0.309L0.38,0.124L0.588,0.809L0,0.4L-0.588,0.809L-0.38,0.124L-0.951,-0.309L-0.235,-0.324Z"},
         "encoding": {
           "x": {"field": "carbon", "type": "quantitative", "scale": {"domain": [1, 18], "nice": false, "zero": false}, "axis": null},
           "y": {"field": "S", "type": "quantitative", "scale": {"domain": [0, 0.25], "nice": false}, "axis": {"orient": "right", "values": [0,0.01,0.02,0.03,0.04,0.05,0.06,0.07,0.08,0.09,0.1,0.11,0.12,0.13,0.14,0.15,0.16,0.17,0.18,0.19,0.2,0.21,0.22,0.23,0.24,0.25], "tickSize": -5, "labels": false, "title": null}}
         }},
        {"transform": [{"filter": "datum.series == 'mTIP3P'"}], "mark": {"type": "point", "filled": true, "opacity": 1, "color": "#dd1c1c", "stroke": "#5a0a0a", "strokeWidth": 0.8, "size": 56, "shape": "circle"},
         "encoding": {
           "x": {"field": "carbon", "type": "quantitative", "scale": {"domain": [1, 18], "nice": false, "zero": false}, "axis": null},
           "y": {"field": "S", "type": "quantitative", "scale": {"domain": [0, 0.25], "nice": false}, "axis": null}
         }},
        {"transform": [{"filter": "datum.series == 'Exptl.'"}], "mark": {"type": "point", "filled": true, "opacity": 1, "color": "#000000", "size": 60, "shape": "M0,-1L1,0L0,1L-1,0Z"},
         "encoding": {
           "x": {"field": "carbon", "type": "quantitative", "scale": {"domain": [1, 18], "nice": false, "zero": false}, "axis": null},
           "y": {"field": "S", "type": "quantitative", "scale": {"domain": [0, 0.25], "nice": false}, "axis": null}
         }},
        {"data": {"values": [{"t": "D"}]}, "mark": {"type": "text", "align": "right", "baseline": "middle", "fontSize": 24, "fontWeight": "bold", "color": "black"},
         "encoding": {"x": {"datum": 16.47, "type": "quantitative", "axis": null}, "y": {"datum": 0.225, "type": "quantitative", "axis": null}, "text": {"field": "t"}}},
        {"data": {"values": [{"t": "sn-2"}]}, "mark": {"type": "text", "align": "right", "baseline": "middle", "fontSize": 17, "color": "black"},
         "encoding": {"x": {"datum": 17.13, "type": "quantitative", "axis": null}, "y": {"datum": 0.201, "type": "quantitative", "axis": null}, "text": {"field": "t"}}}
      ],
      "resolve": {"axis": {"x": "independent", "y": "independent"}}
    }
  ],
  "columns": 2,
  "spacing": {"row": 77, "column": 115},
  "bounds": "flush",
  "resolve": {"scale": {"color": "independent", "shape": "independent", "stroke": "independent", "x": "independent", "y": "independent"}, "legend": {"color": "independent", "shape": "independent"}}
}
